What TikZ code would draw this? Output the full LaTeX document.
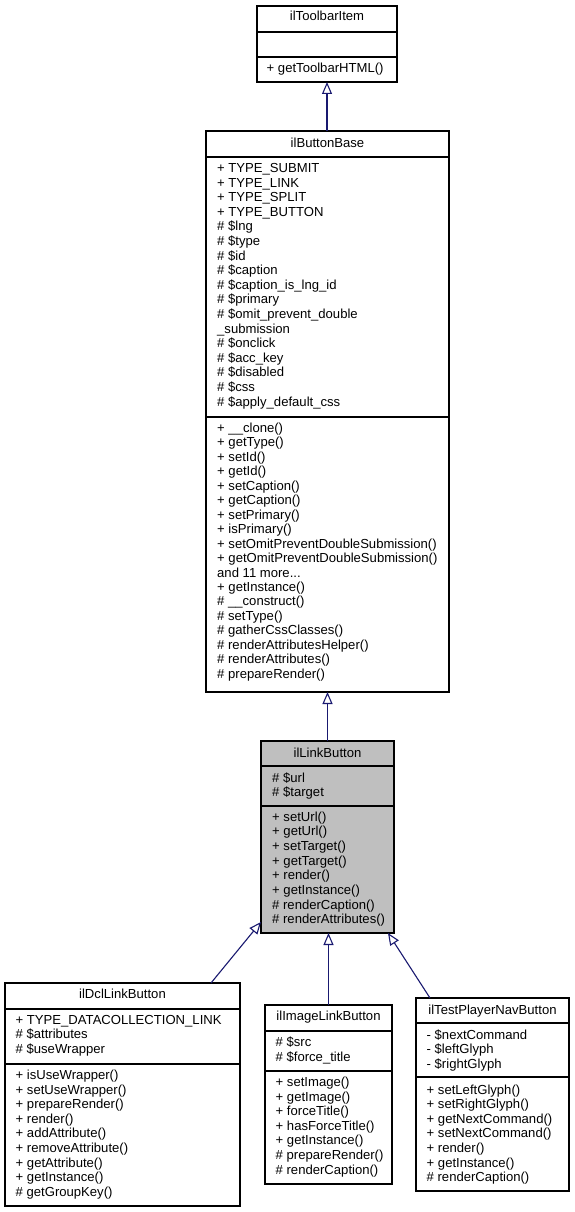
\documentclass[tikz,border=0pt]{standalone}
\usepackage{fontspec}
\setmainfont{Liberation Sans}
\usetikzlibrary{arrows.meta}
\definecolor{edgeblue}{HTML}{191970}
\definecolor{boxgray}{HTML}{BFBFBF}
\tikzset{
  cls/.style={draw=black, line width=1.2pt, fill=white, anchor=north west, inner sep=0pt, outer sep=0pt},
  sepline/.style={draw=black, line width=1.2pt},
  ln/.style={anchor=base west, inner sep=0pt, font=\fontsize{13.1}{15}\selectfont},
  ttl/.style={anchor=base, inner sep=0pt, font=\fontsize{13.1}{15}\selectfont},
  inh/.style={draw=edgeblue, line width=1.1pt, -{Triangle[open, length=12pt, width=10pt, fill=white]}},
}
\newcommand\textlines[5]{%
  \foreach [count=\i from 0] \t in {#5} {\node[ln] (#1\i) at (#2, {#3+\i*#4}) {\t};}}
\begin{document}
\begin{tikzpicture}[x=1pt, y=-1pt]
\useasboundingbox (0,0) rectangle (574,1212);
\fill[white] (0,0) rectangle (574,1212);

% ilToolbarItem
\node[cls, minimum width=140pt, minimum height=76pt] (tb) at (257,6) {};
\draw[sepline] (257,32) -- (397,32);
\draw[sepline] (257,57) -- (397,57);
\node[ttl] (tbt) at (327,21) {ilToolbarItem};
\textlines{tbm}{266.5}{73}{14.6}{+ getToolbarHTML()}

% ilButtonBase
\node[cls, minimum width=243pt, minimum height=561pt] (bb) at (206,131) {};
\draw[sepline] (206,157) -- (449,157);
\draw[sepline] (206,417) -- (449,417);
\node[ttl] (bbt) at (327.5,147) {ilButtonBase};
\textlines{bba}{217}{172.5}{14.6}{+ TYPE\_SUBMIT, + TYPE\_LINK, + TYPE\_SPLIT, + TYPE\_BUTTON, \# \$lng, \# \$type, \# \$id, \# \$caption, \# \$caption\_is\_lng\_id, \# \$primary, \# \$omit\_prevent\_double, \_submission, \# \$onclick, \# \$acc\_key, \# \$disabled, \# \$css, \# \$apply\_default\_css}
\textlines{bbm}{217}{432.5}{14.45}{+ \_\_clone(), + getType(), + setId(), + getId(), + setCaption(), + getCaption(), + setPrimary(), + isPrimary(), + setOmitPreventDoubleSubmission(), + getOmitPreventDoubleSubmission(), and 11 more.{}.{}., + getInstance(), \# \_\_construct(), \# setType(), \# gatherCssClasses(), \# renderAttributesHelper(), \# renderAttributes(), \# prepareRender()}

% ilLinkButton
\node[cls, fill=boxgray, minimum width=133pt, minimum height=192pt] (lb) at (261,741) {};
\draw[sepline] (261,766) -- (394,766);
\draw[sepline] (261,806) -- (394,806);
\node[ttl] (lbt) at (327.5,757) {ilLinkButton};
\textlines{lba}{272}{782}{14.6}{\# \$url, \# \$target}
\textlines{lbm}{272}{821}{14.7}{+ setUrl(), + getUrl(), + setTarget(), + getTarget(), + render(), + getInstance(), \# renderCaption(), \# renderAttributes()}

% ilDclLinkButton
\node[cls, minimum width=235pt, minimum height=223pt] (dcl) at (5,983) {};
\draw[sepline] (5,1009) -- (240,1009);
\draw[sepline] (5,1064) -- (240,1064);
\node[ttl] (dclt) at (122.5,998.5) {ilDclLinkButton};
\textlines{dcla}{15.5}{1024}{14.6}{+ TYPE\_DATACOLLECTION\_LINK, \# \$attributes, \# \$useWrapper}
\textlines{dclm}{15.5}{1079.5}{14.6}{+ isUseWrapper(), + setUseWrapper(), + prepareRender(), + render(), + addAttribute(), + removeAttribute(), + getAttribute(), + getInstance(), \# getGroupKey()}

% ilImageLinkButton
\node[cls, minimum width=127pt, minimum height=179pt] (img) at (265,1005) {};
\draw[sepline] (265,1031) -- (392,1031);
\draw[sepline] (265,1071) -- (392,1071);
\node[ttl] (imgt) at (328.5,1020.7) {ilImageLinkButton};
\textlines{imga}{275.5}{1046.7}{14.6}{\# \$src, \# \$force\_title}
\textlines{imgm}{275.5}{1086.7}{14.55}{+ setImage(), + getImage(), + forceTitle(), + hasForceTitle(), + getInstance(), \# prepareRender(), \# renderCaption()}

% ilTestPlayerNavButton
\node[cls, minimum width=153pt, minimum height=193pt] (tpn) at (416,998) {};
\draw[sepline] (416,1023) -- (569,1023);
\draw[sepline] (416,1077) -- (569,1077);
\node[ttl] (tpnt) at (492.5,1014) {ilTestPlayerNavButton};
\textlines{tpna}{426.5}{1039}{14.6}{- \$nextCommand, - \$leftGlyph, - \$rightGlyph}
\textlines{tpnm}{426.5}{1094}{14.6}{+ setLeftGlyph(), + setRightGlyph(), + getNextCommand(), + setNextCommand(), + render(), + getInstance(), \# renderCaption()}

% inheritance edges
\draw[inh] (bb.north -| tb.south) -- (tb.south);
\draw[inh] (lb.north) -- (lb.north |- bb.south);
\draw[inh] (img.north) -- (img.north |- lb.south);
\draw[inh] ([xshift=-29pt]dcl.north east) -- ([yshift=11pt]lb.south west);
\draw[inh] ([xshift=14pt]tpn.north west) -- ([xshift=-6pt]lb.south east);
\end{tikzpicture}
\end{document}
